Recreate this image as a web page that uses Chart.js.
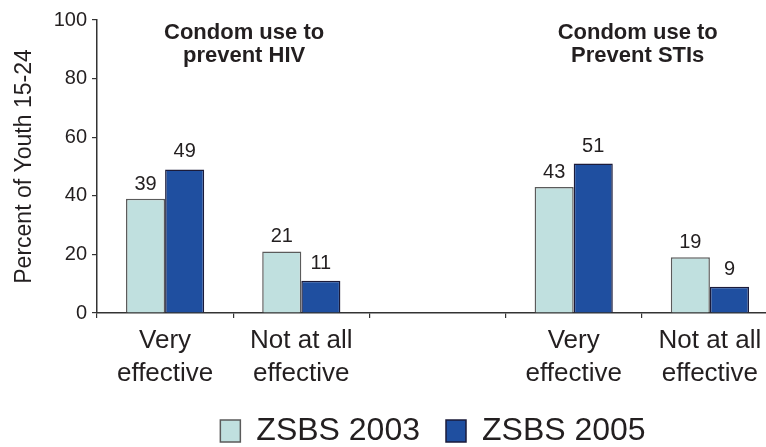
<!DOCTYPE html>
<html>
<head>
<meta charset="utf-8">
<script src="https://cdn.jsdelivr.net/npm/chart.js@4"></script>
<style>
  html, body { margin: 0; padding: 0; background: #fff; }
  #wrap { width: 766px; height: 447px; overflow: hidden; }
</style>
</head>
<body>
<div id="wrap"><canvas id="chart" width="778" height="447"></canvas></div>
<script>
// data
const categories = [['Very', 'effective'], ['Not at all', 'effective'], '', ['Very', 'effective'], ['Not at all', 'effective']];
const seriesNames = ['ZSBS 2003', 'ZSBS 2005'];
const zsbs2003 = [39, 21, null, 43, 19];
const zsbs2005 = [49, 11, null, 51, 9];
const yTicks = [0, 20, 40, 60, 80, 100];
const yTitle = 'Percent of Youth 15-24';
// group headings, anchored at a (fractional) category index
const groupTitles = [
  { lines: ['Condom use to', 'prevent HIV'], at: 0.58 },
  { lines: ['Condom use to', 'Prevent STIs'], at: 3.47 }
];

const INK = '#231f20';
const FONT = "'Liberation Sans', Arial, Helvetica, sans-serif";

// numbers above the bars
const valueLabels = {
  id: 'valueLabels',
  afterDatasetsDraw(chart) {
    const ctx = chart.ctx;
    ctx.save();
    ctx.font = `20px ${FONT}`;
    ctx.fillStyle = INK;
    ctx.textAlign = 'center';
    ctx.textBaseline = 'alphabetic';
    chart.data.datasets.forEach((ds, di) => {
      const gap = di === 0 ? 9 : 12;
      chart.getDatasetMeta(di).data.forEach((bar, i) => {
        if (ds.data[i] == null) return;
        ctx.fillText(String(ds.data[i]), bar.x, bar.y - gap);
      });
    });
    ctx.restore();
  }
};

// bold headings over each pair of categories
const groupHeadings = {
  id: 'groupHeadings',
  afterDraw(chart) {
    const { ctx, chartArea, scales: { x } } = chart;
    ctx.save();
    ctx.font = `bold 22px ${FONT}`;
    ctx.fillStyle = INK;
    ctx.textAlign = 'center';
    ctx.textBaseline = 'alphabetic';
    groupTitles.forEach(g => {
      const cx = x.getPixelForValue(g.at);
      g.lines.forEach((t, i) => ctx.fillText(t, cx, chartArea.top + 19 + i * 23));
    });
    ctx.restore();
  }
};

// legend sits centred on the original (wider) figure, not on the canvas
const legendShift = {
  id: 'legendShift',
  afterLayout(chart) {
    if (!chart.legend) return;
    chart.legend.left += 44;
    chart.legend.right += 44;
  }
};

new Chart(document.getElementById('chart'), {
  type: 'bar',
  data: {
    labels: categories,
    datasets: [
      { label: seriesNames[0], data: zsbs2003, backgroundColor: '#C0E0DF', borderColor: '#5b5b5b', borderWidth: 1.5,
        categoryPercentage: 0.574, barPercentage: 1 },
      { label: seriesNames[1], data: zsbs2005, backgroundColor: '#1F4FA0', borderColor: '#1b1b3a', borderWidth: 1.5,
        categoryPercentage: 0.574, barPercentage: 1 }
    ]
  },
  options: {
    responsive: false,
    animation: false,
    layout: { padding: { top: 20, left: 0, right: 0, bottom: -10 } },
    plugins: {
      legend: {
        position: 'bottom',
        labels: { font: { size: 32, family: FONT }, color: INK, boxWidth: 20, boxHeight: 22, padding: 26 }
      },
      tooltip: { enabled: false }
    },
    scales: {
      x: {
        grid: { drawOnChartArea: false, drawTicks: true, tickLength: 5, color: '#333', lineWidth: 1.2, offset: true },
        border: { color: '#333', width: 1.5 },
        ticks: { font: { size: 26, family: FONT, lineHeight: 1.27 }, color: INK, padding: 6, maxRotation: 0, autoSkip: false },
        afterFit(s) { s.height = 76; }
      },
      y: {
        min: yTicks[0],
        max: yTicks[yTicks.length - 1],
        ticks: { stepSize: yTicks[1] - yTicks[0], font: { size: 20, family: FONT }, color: INK, padding: 5 },
        grid: { drawOnChartArea: false, drawTicks: true, tickLength: 5, color: '#333', lineWidth: 1.2 },
        border: { color: '#333', width: 1.5 },
        title: { display: true, text: yTitle, font: { size: 23, family: FONT }, color: INK, padding: { top: 11, bottom: 0 } },
        afterFit(s) { s.width = 97; }
      }
    }
  },
  plugins: [valueLabels, groupHeadings, legendShift]
});
</script>
</body>
</html>
